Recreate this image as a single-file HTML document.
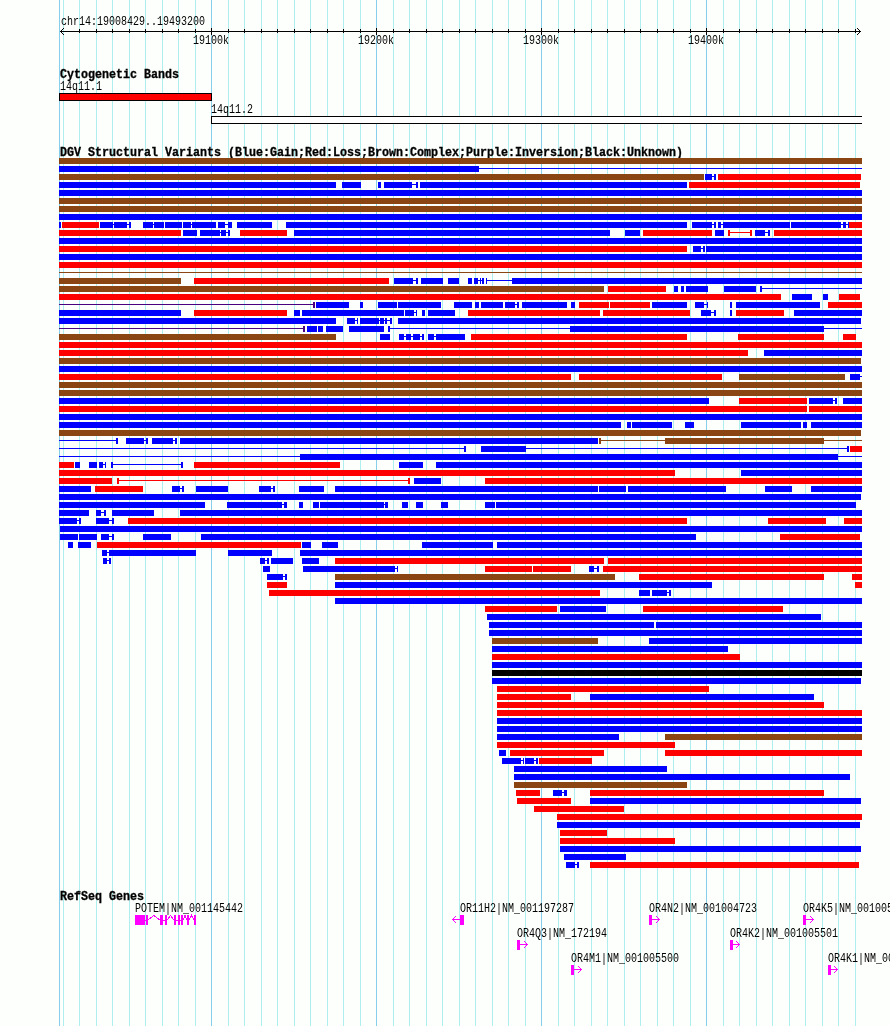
<!DOCTYPE html>
<html><head><meta charset="utf-8"><title>chr14:19008429..19493200</title>
<style>
html,body{margin:0;padding:0;background:#fdfffc;}
body{width:890px;height:1026px;overflow:hidden;font-family:"Liberation Mono",monospace;}
svg{display:block;will-change:transform;}
svg text{font-family:"Liberation Mono",monospace;font-size:12px;fill:#000;}
</style></head><body>
<svg width="890" height="1026" viewBox="0 0 890 1026" shape-rendering="crispEdges">
<rect x="0" y="0" width="890" height="1026" fill="#fdfffc"/>
<rect x="59" y="0" width="1" height="1026" fill="#87ceeb"/>
<rect x="63" y="0" width="1" height="1026" fill="#afeeee"/>
<rect x="79" y="0" width="1" height="1026" fill="#afeeee"/>
<rect x="96" y="0" width="1" height="1026" fill="#afeeee"/>
<rect x="112" y="0" width="1" height="1026" fill="#afeeee"/>
<rect x="129" y="0" width="1" height="1026" fill="#afeeee"/>
<rect x="145" y="0" width="1" height="1026" fill="#afeeee"/>
<rect x="162" y="0" width="1" height="1026" fill="#afeeee"/>
<rect x="178" y="0" width="1" height="1026" fill="#afeeee"/>
<rect x="195" y="0" width="1" height="1026" fill="#afeeee"/>
<rect x="211" y="0" width="1" height="1026" fill="#87ceeb"/>
<rect x="228" y="0" width="1" height="1026" fill="#afeeee"/>
<rect x="244" y="0" width="1" height="1026" fill="#afeeee"/>
<rect x="261" y="0" width="1" height="1026" fill="#afeeee"/>
<rect x="277" y="0" width="1" height="1026" fill="#afeeee"/>
<rect x="294" y="0" width="1" height="1026" fill="#afeeee"/>
<rect x="310" y="0" width="1" height="1026" fill="#afeeee"/>
<rect x="327" y="0" width="1" height="1026" fill="#afeeee"/>
<rect x="343" y="0" width="1" height="1026" fill="#afeeee"/>
<rect x="360" y="0" width="1" height="1026" fill="#afeeee"/>
<rect x="376" y="0" width="1" height="1026" fill="#87ceeb"/>
<rect x="393" y="0" width="1" height="1026" fill="#afeeee"/>
<rect x="409" y="0" width="1" height="1026" fill="#afeeee"/>
<rect x="426" y="0" width="1" height="1026" fill="#afeeee"/>
<rect x="442" y="0" width="1" height="1026" fill="#afeeee"/>
<rect x="459" y="0" width="1" height="1026" fill="#afeeee"/>
<rect x="475" y="0" width="1" height="1026" fill="#afeeee"/>
<rect x="492" y="0" width="1" height="1026" fill="#afeeee"/>
<rect x="508" y="0" width="1" height="1026" fill="#afeeee"/>
<rect x="525" y="0" width="1" height="1026" fill="#afeeee"/>
<rect x="541" y="0" width="1" height="1026" fill="#87ceeb"/>
<rect x="558" y="0" width="1" height="1026" fill="#afeeee"/>
<rect x="574" y="0" width="1" height="1026" fill="#afeeee"/>
<rect x="591" y="0" width="1" height="1026" fill="#afeeee"/>
<rect x="607" y="0" width="1" height="1026" fill="#afeeee"/>
<rect x="624" y="0" width="1" height="1026" fill="#afeeee"/>
<rect x="640" y="0" width="1" height="1026" fill="#afeeee"/>
<rect x="657" y="0" width="1" height="1026" fill="#afeeee"/>
<rect x="673" y="0" width="1" height="1026" fill="#afeeee"/>
<rect x="690" y="0" width="1" height="1026" fill="#afeeee"/>
<rect x="706" y="0" width="1" height="1026" fill="#87ceeb"/>
<rect x="723" y="0" width="1" height="1026" fill="#afeeee"/>
<rect x="739" y="0" width="1" height="1026" fill="#afeeee"/>
<rect x="756" y="0" width="1" height="1026" fill="#afeeee"/>
<rect x="772" y="0" width="1" height="1026" fill="#afeeee"/>
<rect x="789" y="0" width="1" height="1026" fill="#afeeee"/>
<rect x="805" y="0" width="1" height="1026" fill="#afeeee"/>
<rect x="822" y="0" width="1" height="1026" fill="#afeeee"/>
<rect x="838" y="0" width="1" height="1026" fill="#afeeee"/>
<rect x="855" y="0" width="1" height="1026" fill="#afeeee"/>
<rect x="60" y="31" width="801" height="1" fill="#000"/>
<rect x="79" y="29" width="1" height="4" fill="#000"/>
<rect x="96" y="29" width="1" height="4" fill="#000"/>
<rect x="112" y="29" width="1" height="4" fill="#000"/>
<rect x="129" y="29" width="1" height="4" fill="#000"/>
<rect x="145" y="29" width="1" height="4" fill="#000"/>
<rect x="162" y="29" width="1" height="4" fill="#000"/>
<rect x="178" y="29" width="1" height="4" fill="#000"/>
<rect x="195" y="29" width="1" height="4" fill="#000"/>
<rect x="211" y="28" width="1" height="7" fill="#000"/>
<rect x="228" y="29" width="1" height="4" fill="#000"/>
<rect x="244" y="29" width="1" height="4" fill="#000"/>
<rect x="261" y="29" width="1" height="4" fill="#000"/>
<rect x="277" y="29" width="1" height="4" fill="#000"/>
<rect x="294" y="29" width="1" height="4" fill="#000"/>
<rect x="310" y="29" width="1" height="4" fill="#000"/>
<rect x="327" y="29" width="1" height="4" fill="#000"/>
<rect x="343" y="29" width="1" height="4" fill="#000"/>
<rect x="360" y="29" width="1" height="4" fill="#000"/>
<rect x="376" y="28" width="1" height="7" fill="#000"/>
<rect x="393" y="29" width="1" height="4" fill="#000"/>
<rect x="409" y="29" width="1" height="4" fill="#000"/>
<rect x="426" y="29" width="1" height="4" fill="#000"/>
<rect x="442" y="29" width="1" height="4" fill="#000"/>
<rect x="459" y="29" width="1" height="4" fill="#000"/>
<rect x="475" y="29" width="1" height="4" fill="#000"/>
<rect x="492" y="29" width="1" height="4" fill="#000"/>
<rect x="508" y="29" width="1" height="4" fill="#000"/>
<rect x="525" y="29" width="1" height="4" fill="#000"/>
<rect x="541" y="28" width="1" height="7" fill="#000"/>
<rect x="558" y="29" width="1" height="4" fill="#000"/>
<rect x="574" y="29" width="1" height="4" fill="#000"/>
<rect x="591" y="29" width="1" height="4" fill="#000"/>
<rect x="607" y="29" width="1" height="4" fill="#000"/>
<rect x="624" y="29" width="1" height="4" fill="#000"/>
<rect x="640" y="29" width="1" height="4" fill="#000"/>
<rect x="657" y="29" width="1" height="4" fill="#000"/>
<rect x="673" y="29" width="1" height="4" fill="#000"/>
<rect x="690" y="29" width="1" height="4" fill="#000"/>
<rect x="706" y="28" width="1" height="7" fill="#000"/>
<rect x="723" y="29" width="1" height="4" fill="#000"/>
<rect x="739" y="29" width="1" height="4" fill="#000"/>
<rect x="756" y="29" width="1" height="4" fill="#000"/>
<rect x="772" y="29" width="1" height="4" fill="#000"/>
<rect x="789" y="29" width="1" height="4" fill="#000"/>
<rect x="805" y="29" width="1" height="4" fill="#000"/>
<rect x="822" y="29" width="1" height="4" fill="#000"/>
<rect x="838" y="29" width="1" height="4" fill="#000"/>
<rect x="855" y="29" width="1" height="4" fill="#000"/>
<rect x="61" y="30" width="1" height="1" fill="#000"/>
<rect x="61" y="32" width="1" height="1" fill="#000"/>
<rect x="859" y="30" width="1" height="1" fill="#000"/>
<rect x="859" y="32" width="1" height="1" fill="#000"/>
<rect x="62" y="29" width="1" height="1" fill="#000"/>
<rect x="62" y="33" width="1" height="1" fill="#000"/>
<rect x="858" y="29" width="1" height="1" fill="#000"/>
<rect x="858" y="33" width="1" height="1" fill="#000"/>
<rect x="63" y="28" width="1" height="1" fill="#000"/>
<rect x="63" y="34" width="1" height="1" fill="#000"/>
<rect x="857" y="28" width="1" height="1" fill="#000"/>
<rect x="857" y="34" width="1" height="1" fill="#000"/>
<text x="61" y="24.5" textLength="144" lengthAdjust="spacingAndGlyphs">chr14:19008429..19493200</text>
<text x="193" y="44" textLength="36" lengthAdjust="spacingAndGlyphs">19100k</text>
<text x="358" y="44" textLength="36" lengthAdjust="spacingAndGlyphs">19200k</text>
<text x="523" y="44" textLength="36" lengthAdjust="spacingAndGlyphs">19300k</text>
<text x="688" y="44" textLength="36" lengthAdjust="spacingAndGlyphs">19400k</text>
<text x="60" y="78" textLength="119" lengthAdjust="spacingAndGlyphs" font-weight="bold" stroke="#000" stroke-width="0.3">Cytogenetic Bands</text>
<text x="60" y="90" textLength="42" lengthAdjust="spacingAndGlyphs">14q11.1</text>
<rect x="59.5" y="93.5" width="152" height="7" fill="#ff0000" stroke="#000" stroke-width="1"/>
<text x="211" y="113" textLength="42" lengthAdjust="spacingAndGlyphs">14q11.2</text>
<rect x="211" y="116" width="651" height="8" fill="#fff"/>
<rect x="211" y="116" width="651" height="1" fill="#000"/>
<rect x="211" y="123" width="651" height="1" fill="#000"/>
<rect x="211" y="116" width="1" height="8" fill="#000"/>
<text x="60" y="156" textLength="623" lengthAdjust="spacingAndGlyphs" font-weight="bold" stroke="#000" stroke-width="0.3">DGV Structural Variants (Blue:Gain;Red:Loss;Brown:Complex;Purple:Inversion;Black:Unknown)</text>
<rect x="59" y="158" width="803" height="6" fill="#8b4513"/>
<rect x="59" y="166" width="420" height="6" fill="#0000ff"/>
<rect x="479" y="168" width="383" height="1" fill="#0000ff"/>
<rect x="59" y="174" width="645" height="6" fill="#8b4513"/>
<rect x="705" y="174" width="7" height="6" fill="#0000ff"/>
<rect x="712" y="176" width="2" height="1" fill="#0000ff"/>
<rect x="714" y="174" width="2" height="6" fill="#0000ff"/>
<rect x="718" y="174" width="143" height="6" fill="#ff0000"/>
<rect x="59" y="182" width="277" height="6" fill="#0000ff"/>
<rect x="342" y="182" width="19" height="6" fill="#0000ff"/>
<rect x="378" y="182" width="3" height="6" fill="#0000ff"/>
<rect x="384" y="182" width="28" height="6" fill="#0000ff"/>
<rect x="412" y="184" width="4" height="1" fill="#0000ff"/>
<rect x="416" y="182" width="2" height="6" fill="#0000ff"/>
<rect x="420" y="182" width="267" height="6" fill="#0000ff"/>
<rect x="689" y="182" width="171" height="6" fill="#ff0000"/>
<rect x="59" y="190" width="803" height="6" fill="#0000ff"/>
<rect x="59" y="198" width="803" height="6" fill="#8b4513"/>
<rect x="59" y="206" width="803" height="6" fill="#8b4513"/>
<rect x="59" y="214" width="803" height="6" fill="#0000ff"/>
<rect x="59" y="222" width="2" height="6" fill="#0000ff"/>
<rect x="62" y="222" width="37" height="6" fill="#ff0000"/>
<rect x="100" y="222" width="13" height="6" fill="#0000ff"/>
<rect x="113" y="224" width="1" height="1" fill="#0000ff"/>
<rect x="114" y="222" width="13" height="6" fill="#0000ff"/>
<rect x="127" y="224" width="2" height="1" fill="#0000ff"/>
<rect x="129" y="222" width="2" height="6" fill="#0000ff"/>
<rect x="143" y="222" width="10" height="6" fill="#0000ff"/>
<rect x="153" y="224" width="1" height="1" fill="#0000ff"/>
<rect x="154" y="222" width="10" height="6" fill="#0000ff"/>
<rect x="165" y="222" width="17" height="6" fill="#0000ff"/>
<rect x="183" y="222" width="8" height="6" fill="#0000ff"/>
<rect x="191" y="224" width="1" height="1" fill="#0000ff"/>
<rect x="192" y="222" width="24" height="6" fill="#0000ff"/>
<rect x="218" y="222" width="7" height="6" fill="#0000ff"/>
<rect x="225" y="224" width="3" height="1" fill="#0000ff"/>
<rect x="228" y="222" width="4" height="6" fill="#0000ff"/>
<rect x="237" y="222" width="35" height="6" fill="#0000ff"/>
<rect x="286" y="222" width="401" height="6" fill="#0000ff"/>
<rect x="692" y="222" width="20" height="6" fill="#0000ff"/>
<rect x="712" y="224" width="2" height="1" fill="#0000ff"/>
<rect x="714" y="222" width="2" height="6" fill="#0000ff"/>
<rect x="718" y="222" width="3" height="6" fill="#0000ff"/>
<rect x="721" y="224" width="2" height="1" fill="#0000ff"/>
<rect x="723" y="222" width="67" height="6" fill="#0000ff"/>
<rect x="791" y="222" width="50" height="6" fill="#0000ff"/>
<rect x="841" y="224" width="2" height="1" fill="#0000ff"/>
<rect x="843" y="222" width="3" height="6" fill="#0000ff"/>
<rect x="846" y="224" width="2" height="1" fill="#0000ff"/>
<rect x="848" y="222" width="1" height="6" fill="#0000ff"/>
<rect x="849" y="222" width="13" height="6" fill="#ff0000"/>
<rect x="59" y="230" width="122" height="6" fill="#ff0000"/>
<rect x="183" y="230" width="14" height="6" fill="#0000ff"/>
<rect x="200" y="230" width="20" height="6" fill="#0000ff"/>
<rect x="220" y="232" width="1" height="1" fill="#0000ff"/>
<rect x="221" y="230" width="5" height="6" fill="#0000ff"/>
<rect x="226" y="232" width="2" height="1" fill="#0000ff"/>
<rect x="228" y="230" width="2" height="6" fill="#0000ff"/>
<rect x="240" y="230" width="47" height="6" fill="#ff0000"/>
<rect x="294" y="230" width="316" height="6" fill="#0000ff"/>
<rect x="625" y="230" width="15" height="6" fill="#0000ff"/>
<rect x="643" y="230" width="69" height="6" fill="#ff0000"/>
<rect x="715" y="230" width="9" height="6" fill="#0000ff"/>
<rect x="728" y="230" width="2" height="6" fill="#ff0000"/>
<rect x="730" y="232" width="20" height="1" fill="#ff0000"/>
<rect x="750" y="230" width="2" height="6" fill="#ff0000"/>
<rect x="755" y="230" width="10" height="6" fill="#0000ff"/>
<rect x="765" y="232" width="3" height="1" fill="#0000ff"/>
<rect x="768" y="230" width="2" height="6" fill="#0000ff"/>
<rect x="774" y="230" width="88" height="6" fill="#ff0000"/>
<rect x="59" y="238" width="803" height="6" fill="#0000ff"/>
<rect x="59" y="246" width="628" height="6" fill="#ff0000"/>
<rect x="693" y="246" width="8" height="6" fill="#0000ff"/>
<rect x="701" y="248" width="2" height="1" fill="#0000ff"/>
<rect x="703" y="246" width="2" height="6" fill="#0000ff"/>
<rect x="706" y="246" width="156" height="6" fill="#0000ff"/>
<rect x="59" y="254" width="803" height="6" fill="#0000ff"/>
<rect x="59" y="262" width="803" height="6" fill="#ff0000"/>
<rect x="59" y="272" width="803" height="1" fill="#8b4513"/>
<rect x="59" y="278" width="122" height="6" fill="#8b4513"/>
<rect x="194" y="278" width="195" height="6" fill="#ff0000"/>
<rect x="394" y="278" width="19" height="6" fill="#0000ff"/>
<rect x="413" y="280" width="3" height="1" fill="#0000ff"/>
<rect x="416" y="278" width="2" height="6" fill="#0000ff"/>
<rect x="421" y="278" width="22" height="6" fill="#0000ff"/>
<rect x="448" y="278" width="11" height="6" fill="#0000ff"/>
<rect x="468" y="278" width="4" height="6" fill="#0000ff"/>
<rect x="474" y="278" width="4" height="6" fill="#0000ff"/>
<rect x="478" y="280" width="2" height="1" fill="#0000ff"/>
<rect x="480" y="278" width="1" height="6" fill="#0000ff"/>
<rect x="481" y="280" width="1" height="1" fill="#0000ff"/>
<rect x="482" y="278" width="2" height="6" fill="#0000ff"/>
<rect x="486" y="278" width="1" height="6" fill="#0000ff"/>
<rect x="487" y="280" width="25" height="1" fill="#0000ff"/>
<rect x="512" y="278" width="350" height="6" fill="#0000ff"/>
<rect x="59" y="286" width="545" height="6" fill="#8b4513"/>
<rect x="608" y="286" width="58" height="6" fill="#ff0000"/>
<rect x="674" y="286" width="4" height="6" fill="#0000ff"/>
<rect x="681" y="286" width="3" height="6" fill="#0000ff"/>
<rect x="686" y="286" width="22" height="6" fill="#0000ff"/>
<rect x="724" y="286" width="32" height="6" fill="#0000ff"/>
<rect x="760" y="286" width="2" height="6" fill="#0000ff"/>
<rect x="762" y="288" width="100" height="1" fill="#0000ff"/>
<rect x="59" y="294" width="722" height="6" fill="#ff0000"/>
<rect x="792" y="294" width="20" height="6" fill="#0000ff"/>
<rect x="823" y="294" width="5" height="6" fill="#0000ff"/>
<rect x="839" y="294" width="21" height="6" fill="#ff0000"/>
<rect x="59" y="304" width="254" height="1" fill="#4b0082"/>
<rect x="313" y="302" width="2" height="6" fill="#4b0082"/>
<rect x="316" y="302" width="33" height="6" fill="#0000ff"/>
<rect x="360" y="302" width="3" height="6" fill="#0000ff"/>
<rect x="378" y="302" width="19" height="6" fill="#0000ff"/>
<rect x="398" y="302" width="43" height="6" fill="#0000ff"/>
<rect x="454" y="302" width="18" height="6" fill="#0000ff"/>
<rect x="475" y="302" width="4" height="6" fill="#0000ff"/>
<rect x="481" y="302" width="22" height="6" fill="#0000ff"/>
<rect x="505" y="302" width="10" height="6" fill="#0000ff"/>
<rect x="515" y="304" width="2" height="1" fill="#0000ff"/>
<rect x="517" y="302" width="2" height="6" fill="#0000ff"/>
<rect x="522" y="302" width="45" height="6" fill="#0000ff"/>
<rect x="571" y="302" width="4" height="6" fill="#0000ff"/>
<rect x="579" y="302" width="30" height="6" fill="#ff0000"/>
<rect x="610" y="302" width="40" height="6" fill="#ff0000"/>
<rect x="652" y="302" width="35" height="6" fill="#0000ff"/>
<rect x="695" y="302" width="9" height="6" fill="#0000ff"/>
<rect x="704" y="304" width="3" height="1" fill="#0000ff"/>
<rect x="707" y="302" width="1" height="6" fill="#0000ff"/>
<rect x="730" y="302" width="2" height="6" fill="#0000ff"/>
<rect x="736" y="302" width="84" height="6" fill="#0000ff"/>
<rect x="828" y="302" width="34" height="6" fill="#ff0000"/>
<rect x="59" y="310" width="122" height="6" fill="#0000ff"/>
<rect x="194" y="310" width="93" height="6" fill="#ff0000"/>
<rect x="294" y="310" width="6" height="6" fill="#0000ff"/>
<rect x="302" y="310" width="102" height="6" fill="#0000ff"/>
<rect x="405" y="310" width="9" height="6" fill="#0000ff"/>
<rect x="414" y="312" width="2" height="1" fill="#0000ff"/>
<rect x="416" y="310" width="1" height="6" fill="#0000ff"/>
<rect x="422" y="310" width="3" height="6" fill="#0000ff"/>
<rect x="428" y="310" width="27" height="6" fill="#0000ff"/>
<rect x="468" y="310" width="132" height="6" fill="#ff0000"/>
<rect x="603" y="310" width="87" height="6" fill="#ff0000"/>
<rect x="701" y="310" width="10" height="6" fill="#0000ff"/>
<rect x="711" y="312" width="3" height="1" fill="#0000ff"/>
<rect x="714" y="310" width="2" height="6" fill="#0000ff"/>
<rect x="730" y="310" width="2" height="6" fill="#0000ff"/>
<rect x="736" y="310" width="48" height="6" fill="#ff0000"/>
<rect x="794" y="310" width="68" height="6" fill="#0000ff"/>
<rect x="59" y="318" width="277" height="6" fill="#0000ff"/>
<rect x="347" y="318" width="8" height="6" fill="#0000ff"/>
<rect x="355" y="320" width="2" height="1" fill="#0000ff"/>
<rect x="357" y="318" width="1" height="6" fill="#0000ff"/>
<rect x="360" y="318" width="19" height="6" fill="#0000ff"/>
<rect x="379" y="320" width="1" height="1" fill="#0000ff"/>
<rect x="380" y="318" width="4" height="6" fill="#0000ff"/>
<rect x="384" y="320" width="1" height="1" fill="#0000ff"/>
<rect x="385" y="318" width="2" height="6" fill="#0000ff"/>
<rect x="387" y="320" width="3" height="1" fill="#0000ff"/>
<rect x="390" y="318" width="2" height="6" fill="#0000ff"/>
<rect x="398" y="318" width="463" height="6" fill="#0000ff"/>
<rect x="59" y="328" width="244" height="1" fill="#4b0082"/>
<rect x="303" y="326" width="2" height="6" fill="#4b0082"/>
<rect x="307" y="326" width="10" height="6" fill="#0000ff"/>
<rect x="318" y="326" width="5" height="6" fill="#0000ff"/>
<rect x="326" y="326" width="17" height="6" fill="#0000ff"/>
<rect x="349" y="326" width="35" height="6" fill="#0000ff"/>
<rect x="388" y="326" width="2" height="6" fill="#0000ff"/>
<rect x="390" y="328" width="180" height="1" fill="#0000ff"/>
<rect x="570" y="326" width="254" height="6" fill="#0000ff"/>
<rect x="824" y="328" width="38" height="1" fill="#0000ff"/>
<rect x="59" y="334" width="277" height="6" fill="#8b4513"/>
<rect x="380" y="334" width="10" height="6" fill="#0000ff"/>
<rect x="399" y="334" width="5" height="6" fill="#0000ff"/>
<rect x="404" y="336" width="2" height="1" fill="#0000ff"/>
<rect x="406" y="334" width="5" height="6" fill="#0000ff"/>
<rect x="411" y="336" width="2" height="1" fill="#0000ff"/>
<rect x="413" y="334" width="7" height="6" fill="#0000ff"/>
<rect x="420" y="336" width="2" height="1" fill="#0000ff"/>
<rect x="422" y="334" width="2" height="6" fill="#0000ff"/>
<rect x="428" y="334" width="6" height="6" fill="#0000ff"/>
<rect x="434" y="336" width="2" height="1" fill="#0000ff"/>
<rect x="436" y="334" width="29" height="6" fill="#0000ff"/>
<rect x="471" y="334" width="216" height="6" fill="#ff0000"/>
<rect x="738" y="334" width="86" height="6" fill="#ff0000"/>
<rect x="843" y="334" width="13" height="6" fill="#ff0000"/>
<rect x="59" y="342" width="803" height="6" fill="#ff0000"/>
<rect x="59" y="350" width="689" height="6" fill="#ff0000"/>
<rect x="764" y="350" width="98" height="6" fill="#0000ff"/>
<rect x="59" y="358" width="802" height="6" fill="#8b4513"/>
<rect x="59" y="366" width="803" height="6" fill="#0000ff"/>
<rect x="59" y="374" width="512" height="6" fill="#ff0000"/>
<rect x="579" y="374" width="143" height="6" fill="#ff0000"/>
<rect x="739" y="374" width="106" height="6" fill="#8b4513"/>
<rect x="850" y="374" width="10" height="6" fill="#0000ff"/>
<rect x="860" y="376" width="2" height="1" fill="#0000ff"/>
<rect x="59" y="382" width="803" height="6" fill="#8b4513"/>
<rect x="59" y="390" width="803" height="6" fill="#8b4513"/>
<rect x="59" y="398" width="650" height="6" fill="#0000ff"/>
<rect x="739" y="398" width="68" height="6" fill="#ff0000"/>
<rect x="809" y="398" width="24" height="6" fill="#0000ff"/>
<rect x="833" y="400" width="2" height="1" fill="#0000ff"/>
<rect x="835" y="398" width="2" height="6" fill="#0000ff"/>
<rect x="843" y="398" width="19" height="6" fill="#0000ff"/>
<rect x="59" y="406" width="748" height="6" fill="#ff0000"/>
<rect x="809" y="406" width="53" height="6" fill="#ff0000"/>
<rect x="59" y="414" width="803" height="6" fill="#0000ff"/>
<rect x="59" y="422" width="562" height="6" fill="#0000ff"/>
<rect x="627" y="422" width="4" height="6" fill="#0000ff"/>
<rect x="632" y="422" width="40" height="6" fill="#0000ff"/>
<rect x="685" y="422" width="9" height="6" fill="#0000ff"/>
<rect x="741" y="422" width="60" height="6" fill="#0000ff"/>
<rect x="803" y="422" width="4" height="6" fill="#0000ff"/>
<rect x="811" y="422" width="51" height="6" fill="#0000ff"/>
<rect x="59" y="430" width="802" height="6" fill="#8b4513"/>
<rect x="59" y="440" width="57" height="1" fill="#0000ff"/>
<rect x="116" y="438" width="2" height="6" fill="#0000ff"/>
<rect x="126" y="438" width="18" height="6" fill="#0000ff"/>
<rect x="144" y="440" width="2" height="1" fill="#0000ff"/>
<rect x="146" y="438" width="2" height="6" fill="#0000ff"/>
<rect x="152" y="438" width="21" height="6" fill="#0000ff"/>
<rect x="173" y="440" width="2" height="1" fill="#0000ff"/>
<rect x="175" y="438" width="2" height="6" fill="#0000ff"/>
<rect x="180" y="438" width="418" height="6" fill="#0000ff"/>
<rect x="599" y="438" width="2" height="6" fill="#8b4513"/>
<rect x="601" y="440" width="64" height="1" fill="#8b4513"/>
<rect x="665" y="438" width="159" height="6" fill="#8b4513"/>
<rect x="824" y="440" width="38" height="1" fill="#8b4513"/>
<rect x="59" y="448" width="405" height="1" fill="#0000ff"/>
<rect x="464" y="446" width="2" height="6" fill="#0000ff"/>
<rect x="481" y="446" width="45" height="6" fill="#0000ff"/>
<rect x="526" y="448" width="321" height="1" fill="#0000ff"/>
<rect x="847" y="446" width="2" height="6" fill="#0000ff"/>
<rect x="850" y="446" width="12" height="6" fill="#ff0000"/>
<rect x="59" y="456" width="241" height="1" fill="#0000ff"/>
<rect x="300" y="454" width="538" height="6" fill="#0000ff"/>
<rect x="838" y="456" width="24" height="1" fill="#0000ff"/>
<rect x="59" y="462" width="15" height="6" fill="#ff0000"/>
<rect x="75" y="462" width="5" height="6" fill="#0000ff"/>
<rect x="89" y="462" width="8" height="6" fill="#0000ff"/>
<rect x="99" y="462" width="4" height="6" fill="#0000ff"/>
<rect x="103" y="464" width="2" height="1" fill="#0000ff"/>
<rect x="105" y="462" width="1" height="6" fill="#0000ff"/>
<rect x="111" y="462" width="2" height="6" fill="#0000ff"/>
<rect x="113" y="464" width="68" height="1" fill="#0000ff"/>
<rect x="181" y="462" width="2" height="6" fill="#0000ff"/>
<rect x="194" y="462" width="146" height="6" fill="#ff0000"/>
<rect x="399" y="462" width="24" height="6" fill="#0000ff"/>
<rect x="436" y="462" width="426" height="6" fill="#0000ff"/>
<rect x="59" y="470" width="616" height="6" fill="#ff0000"/>
<rect x="741" y="470" width="121" height="6" fill="#0000ff"/>
<rect x="59" y="478" width="53" height="6" fill="#ff0000"/>
<rect x="117" y="478" width="2" height="6" fill="#ff0000"/>
<rect x="119" y="480" width="289" height="1" fill="#ff0000"/>
<rect x="408" y="478" width="2" height="6" fill="#ff0000"/>
<rect x="414" y="478" width="27" height="6" fill="#0000ff"/>
<rect x="485" y="478" width="377" height="6" fill="#ff0000"/>
<rect x="59" y="486" width="32" height="6" fill="#0000ff"/>
<rect x="95" y="486" width="48" height="6" fill="#ff0000"/>
<rect x="172" y="486" width="8" height="6" fill="#0000ff"/>
<rect x="180" y="488" width="2" height="1" fill="#0000ff"/>
<rect x="182" y="486" width="2" height="6" fill="#0000ff"/>
<rect x="196" y="486" width="32" height="6" fill="#0000ff"/>
<rect x="259" y="486" width="12" height="6" fill="#0000ff"/>
<rect x="271" y="488" width="2" height="1" fill="#0000ff"/>
<rect x="273" y="486" width="2" height="6" fill="#0000ff"/>
<rect x="299" y="486" width="25" height="6" fill="#0000ff"/>
<rect x="335" y="486" width="263" height="6" fill="#0000ff"/>
<rect x="599" y="486" width="27" height="6" fill="#0000ff"/>
<rect x="628" y="486" width="98" height="6" fill="#0000ff"/>
<rect x="765" y="486" width="27" height="6" fill="#0000ff"/>
<rect x="811" y="486" width="51" height="6" fill="#0000ff"/>
<rect x="59" y="494" width="802" height="6" fill="#0000ff"/>
<rect x="59" y="502" width="146" height="6" fill="#0000ff"/>
<rect x="227" y="502" width="55" height="6" fill="#0000ff"/>
<rect x="282" y="504" width="2" height="1" fill="#0000ff"/>
<rect x="284" y="502" width="3" height="6" fill="#0000ff"/>
<rect x="299" y="502" width="4" height="6" fill="#0000ff"/>
<rect x="313" y="502" width="6" height="6" fill="#0000ff"/>
<rect x="320" y="502" width="64" height="6" fill="#0000ff"/>
<rect x="384" y="504" width="1" height="1" fill="#0000ff"/>
<rect x="385" y="502" width="3" height="6" fill="#0000ff"/>
<rect x="402" y="502" width="6" height="6" fill="#0000ff"/>
<rect x="416" y="502" width="7" height="6" fill="#0000ff"/>
<rect x="441" y="502" width="7" height="6" fill="#0000ff"/>
<rect x="485" y="502" width="10" height="6" fill="#0000ff"/>
<rect x="496" y="502" width="360" height="6" fill="#0000ff"/>
<rect x="59" y="510" width="30" height="6" fill="#0000ff"/>
<rect x="96" y="510" width="5" height="6" fill="#0000ff"/>
<rect x="101" y="512" width="3" height="1" fill="#0000ff"/>
<rect x="104" y="510" width="2" height="6" fill="#0000ff"/>
<rect x="112" y="510" width="42" height="6" fill="#0000ff"/>
<rect x="180" y="510" width="682" height="6" fill="#0000ff"/>
<rect x="59" y="518" width="18" height="6" fill="#0000ff"/>
<rect x="77" y="520" width="2" height="1" fill="#0000ff"/>
<rect x="79" y="518" width="2" height="6" fill="#0000ff"/>
<rect x="96" y="518" width="13" height="6" fill="#0000ff"/>
<rect x="109" y="520" width="3" height="1" fill="#0000ff"/>
<rect x="112" y="518" width="2" height="6" fill="#0000ff"/>
<rect x="128" y="518" width="559" height="6" fill="#ff0000"/>
<rect x="768" y="518" width="58" height="6" fill="#ff0000"/>
<rect x="844" y="518" width="18" height="6" fill="#ff0000"/>
<rect x="60" y="526" width="802" height="6" fill="#0000ff"/>
<rect x="60" y="534" width="18" height="6" fill="#0000ff"/>
<rect x="79" y="534" width="18" height="6" fill="#0000ff"/>
<rect x="101" y="534" width="8" height="6" fill="#0000ff"/>
<rect x="109" y="536" width="3" height="1" fill="#0000ff"/>
<rect x="112" y="534" width="2" height="6" fill="#0000ff"/>
<rect x="143" y="534" width="28" height="6" fill="#0000ff"/>
<rect x="201" y="534" width="495" height="6" fill="#0000ff"/>
<rect x="780" y="534" width="80" height="6" fill="#ff0000"/>
<rect x="68" y="542" width="5" height="6" fill="#0000ff"/>
<rect x="78" y="542" width="13" height="6" fill="#0000ff"/>
<rect x="97" y="542" width="204" height="6" fill="#ff0000"/>
<rect x="302" y="542" width="9" height="6" fill="#0000ff"/>
<rect x="322" y="542" width="16" height="6" fill="#0000ff"/>
<rect x="422" y="542" width="71" height="6" fill="#0000ff"/>
<rect x="497" y="542" width="365" height="6" fill="#0000ff"/>
<rect x="102" y="550" width="5" height="6" fill="#0000ff"/>
<rect x="107" y="552" width="2" height="1" fill="#0000ff"/>
<rect x="109" y="550" width="87" height="6" fill="#0000ff"/>
<rect x="228" y="550" width="44" height="6" fill="#0000ff"/>
<rect x="300" y="550" width="562" height="6" fill="#0000ff"/>
<rect x="103" y="558" width="4" height="6" fill="#0000ff"/>
<rect x="107" y="560" width="2" height="1" fill="#0000ff"/>
<rect x="109" y="558" width="2" height="6" fill="#0000ff"/>
<rect x="260" y="558" width="5" height="6" fill="#0000ff"/>
<rect x="265" y="560" width="2" height="1" fill="#0000ff"/>
<rect x="267" y="558" width="2" height="6" fill="#0000ff"/>
<rect x="271" y="558" width="22" height="6" fill="#0000ff"/>
<rect x="302" y="558" width="17" height="6" fill="#0000ff"/>
<rect x="335" y="558" width="269" height="6" fill="#ff0000"/>
<rect x="608" y="558" width="254" height="6" fill="#ff0000"/>
<rect x="263" y="566" width="7" height="6" fill="#0000ff"/>
<rect x="303" y="566" width="92" height="6" fill="#0000ff"/>
<rect x="395" y="568" width="2" height="1" fill="#0000ff"/>
<rect x="397" y="566" width="1" height="6" fill="#0000ff"/>
<rect x="485" y="566" width="47" height="6" fill="#ff0000"/>
<rect x="533" y="566" width="38" height="6" fill="#ff0000"/>
<rect x="589" y="566" width="5" height="6" fill="#0000ff"/>
<rect x="594" y="568" width="3" height="1" fill="#0000ff"/>
<rect x="597" y="566" width="2" height="6" fill="#0000ff"/>
<rect x="603" y="566" width="259" height="6" fill="#ff0000"/>
<rect x="267" y="574" width="16" height="6" fill="#0000ff"/>
<rect x="283" y="576" width="2" height="1" fill="#0000ff"/>
<rect x="285" y="574" width="2" height="6" fill="#0000ff"/>
<rect x="335" y="574" width="280" height="6" fill="#8b4513"/>
<rect x="639" y="574" width="185" height="6" fill="#ff0000"/>
<rect x="852" y="574" width="10" height="6" fill="#ff0000"/>
<rect x="267" y="582" width="20" height="6" fill="#ff0000"/>
<rect x="335" y="582" width="377" height="6" fill="#0000ff"/>
<rect x="855" y="582" width="7" height="6" fill="#ff0000"/>
<rect x="269" y="590" width="331" height="6" fill="#ff0000"/>
<rect x="639" y="590" width="11" height="6" fill="#0000ff"/>
<rect x="652" y="590" width="15" height="6" fill="#0000ff"/>
<rect x="667" y="592" width="2" height="1" fill="#0000ff"/>
<rect x="669" y="590" width="2" height="6" fill="#0000ff"/>
<rect x="335" y="598" width="527" height="6" fill="#0000ff"/>
<rect x="485" y="606" width="72" height="6" fill="#ff0000"/>
<rect x="560" y="606" width="46" height="6" fill="#0000ff"/>
<rect x="643" y="606" width="140" height="6" fill="#ff0000"/>
<rect x="487" y="614" width="334" height="6" fill="#0000ff"/>
<rect x="489" y="622" width="165" height="6" fill="#0000ff"/>
<rect x="656" y="622" width="206" height="6" fill="#0000ff"/>
<rect x="489" y="630" width="373" height="6" fill="#0000ff"/>
<rect x="492" y="638" width="106" height="6" fill="#8b4513"/>
<rect x="649" y="638" width="213" height="6" fill="#0000ff"/>
<rect x="492" y="646" width="236" height="6" fill="#0000ff"/>
<rect x="492" y="654" width="248" height="6" fill="#ff0000"/>
<rect x="492" y="662" width="370" height="6" fill="#0000ff"/>
<rect x="492" y="670" width="370" height="6" fill="#000000"/>
<rect x="492" y="678" width="369" height="6" fill="#0000ff"/>
<rect x="497" y="686" width="212" height="6" fill="#ff0000"/>
<rect x="497" y="694" width="74" height="6" fill="#ff0000"/>
<rect x="590" y="694" width="224" height="6" fill="#0000ff"/>
<rect x="497" y="702" width="327" height="6" fill="#ff0000"/>
<rect x="497" y="710" width="365" height="6" fill="#ff0000"/>
<rect x="497" y="718" width="365" height="6" fill="#0000ff"/>
<rect x="497" y="726" width="365" height="6" fill="#0000ff"/>
<rect x="497" y="734" width="122" height="6" fill="#0000ff"/>
<rect x="665" y="734" width="197" height="6" fill="#8b4513"/>
<rect x="497" y="742" width="178" height="6" fill="#ff0000"/>
<rect x="499" y="750" width="7" height="6" fill="#0000ff"/>
<rect x="510" y="750" width="94" height="6" fill="#ff0000"/>
<rect x="665" y="750" width="197" height="6" fill="#ff0000"/>
<rect x="502" y="758" width="19" height="6" fill="#0000ff"/>
<rect x="521" y="760" width="2" height="1" fill="#0000ff"/>
<rect x="523" y="758" width="1" height="6" fill="#0000ff"/>
<rect x="525" y="758" width="9" height="6" fill="#0000ff"/>
<rect x="534" y="760" width="2" height="1" fill="#0000ff"/>
<rect x="536" y="758" width="2" height="6" fill="#0000ff"/>
<rect x="539" y="758" width="53" height="6" fill="#ff0000"/>
<rect x="514" y="766" width="153" height="6" fill="#0000ff"/>
<rect x="514" y="774" width="336" height="6" fill="#0000ff"/>
<rect x="514" y="782" width="173" height="6" fill="#8b4513"/>
<rect x="516" y="790" width="24" height="6" fill="#ff0000"/>
<rect x="553" y="790" width="9" height="6" fill="#0000ff"/>
<rect x="562" y="792" width="2" height="1" fill="#0000ff"/>
<rect x="564" y="790" width="3" height="6" fill="#0000ff"/>
<rect x="590" y="790" width="234" height="6" fill="#ff0000"/>
<rect x="517" y="798" width="54" height="6" fill="#ff0000"/>
<rect x="590" y="798" width="271" height="6" fill="#0000ff"/>
<rect x="534" y="806" width="90" height="6" fill="#ff0000"/>
<rect x="557" y="814" width="305" height="6" fill="#ff0000"/>
<rect x="557" y="822" width="303" height="6" fill="#0000ff"/>
<rect x="560" y="830" width="47" height="6" fill="#ff0000"/>
<rect x="560" y="838" width="115" height="6" fill="#ff0000"/>
<rect x="560" y="846" width="301" height="6" fill="#0000ff"/>
<rect x="564" y="854" width="62" height="6" fill="#0000ff"/>
<rect x="566" y="862" width="9" height="6" fill="#0000ff"/>
<rect x="575" y="864" width="2" height="1" fill="#0000ff"/>
<rect x="577" y="862" width="2" height="6" fill="#0000ff"/>
<rect x="590" y="862" width="269" height="6" fill="#ff0000"/>
<text x="60" y="900" textLength="84" lengthAdjust="spacingAndGlyphs" font-weight="bold" stroke="#000" stroke-width="0.3">RefSeq Genes</text>
<text x="135" y="912" textLength="108" lengthAdjust="spacingAndGlyphs">POTEM|NM_001145442</text>
<rect x="135" y="915" width="10" height="10" fill="#ff00ff"/>
<rect x="146" y="915" width="2" height="10" fill="#ff00ff"/>
<rect x="160" y="915" width="3" height="10" fill="#ff00ff"/>
<rect x="165" y="915" width="2" height="10" fill="#ff00ff"/>
<rect x="174" y="915" width="2" height="10" fill="#ff00ff"/>
<rect x="178" y="915" width="2" height="10" fill="#ff00ff"/>
<rect x="181" y="915" width="2" height="10" fill="#ff00ff"/>
<rect x="187" y="915" width="2" height="10" fill="#ff00ff"/>
<rect x="194" y="915" width="2" height="10" fill="#ff00ff"/>
<rect x="145" y="920" width="1" height="1" fill="#ff00ff"/>
<polyline points="148,920 154.0,915.5 160,920" fill="none" stroke="#ff00ff" stroke-width="1"/>
<rect x="163" y="920" width="2" height="1" fill="#ff00ff"/>
<polyline points="167,920 170.5,915.5 174,920" fill="none" stroke="#ff00ff" stroke-width="1"/>
<rect x="176" y="920" width="2" height="1" fill="#ff00ff"/>
<rect x="180" y="920" width="1" height="1" fill="#ff00ff"/>
<polyline points="183,920 185.0,915.5 187,920" fill="none" stroke="#ff00ff" stroke-width="1"/>
<polyline points="189,920 191.5,915.5 194,920" fill="none" stroke="#ff00ff" stroke-width="1"/>
<text x="460" y="912" textLength="114" lengthAdjust="spacingAndGlyphs">OR11H2|NM_001197287</text>
<rect x="460" y="915" width="4" height="10" fill="#ff00ff"/>
<rect x="452" y="919" width="8" height="1" fill="#ff00ff"/>
<rect x="453" y="918" width="1" height="1" fill="#ff00ff"/>
<rect x="453" y="920" width="1" height="1" fill="#ff00ff"/>
<rect x="454" y="917" width="1" height="1" fill="#ff00ff"/>
<rect x="454" y="921" width="1" height="1" fill="#ff00ff"/>
<rect x="455" y="916" width="1" height="1" fill="#ff00ff"/>
<rect x="455" y="922" width="1" height="1" fill="#ff00ff"/>
<text x="649" y="912" textLength="108" lengthAdjust="spacingAndGlyphs">OR4N2|NM_001004723</text>
<rect x="649" y="915" width="3" height="10" fill="#ff00ff"/>
<rect x="652" y="919" width="8" height="1" fill="#ff00ff"/>
<rect x="658" y="918" width="1" height="1" fill="#ff00ff"/>
<rect x="658" y="920" width="1" height="1" fill="#ff00ff"/>
<rect x="657" y="917" width="1" height="1" fill="#ff00ff"/>
<rect x="657" y="921" width="1" height="1" fill="#ff00ff"/>
<rect x="656" y="916" width="1" height="1" fill="#ff00ff"/>
<rect x="656" y="922" width="1" height="1" fill="#ff00ff"/>
<text x="803" y="912" textLength="108" lengthAdjust="spacingAndGlyphs">OR4K5|NM_001005483</text>
<rect x="803" y="915" width="3" height="10" fill="#ff00ff"/>
<rect x="806" y="919" width="8" height="1" fill="#ff00ff"/>
<rect x="812" y="918" width="1" height="1" fill="#ff00ff"/>
<rect x="812" y="920" width="1" height="1" fill="#ff00ff"/>
<rect x="811" y="917" width="1" height="1" fill="#ff00ff"/>
<rect x="811" y="921" width="1" height="1" fill="#ff00ff"/>
<rect x="810" y="916" width="1" height="1" fill="#ff00ff"/>
<rect x="810" y="922" width="1" height="1" fill="#ff00ff"/>
<text x="517" y="937" textLength="90" lengthAdjust="spacingAndGlyphs">OR4Q3|NM_172194</text>
<rect x="517" y="940" width="3" height="10" fill="#ff00ff"/>
<rect x="520" y="944" width="8" height="1" fill="#ff00ff"/>
<rect x="526" y="943" width="1" height="1" fill="#ff00ff"/>
<rect x="526" y="945" width="1" height="1" fill="#ff00ff"/>
<rect x="525" y="942" width="1" height="1" fill="#ff00ff"/>
<rect x="525" y="946" width="1" height="1" fill="#ff00ff"/>
<rect x="524" y="941" width="1" height="1" fill="#ff00ff"/>
<rect x="524" y="947" width="1" height="1" fill="#ff00ff"/>
<text x="730" y="937" textLength="108" lengthAdjust="spacingAndGlyphs">OR4K2|NM_001005501</text>
<rect x="730" y="940" width="3" height="10" fill="#ff00ff"/>
<rect x="733" y="944" width="7" height="1" fill="#ff00ff"/>
<rect x="738" y="943" width="1" height="1" fill="#ff00ff"/>
<rect x="738" y="945" width="1" height="1" fill="#ff00ff"/>
<rect x="737" y="942" width="1" height="1" fill="#ff00ff"/>
<rect x="737" y="946" width="1" height="1" fill="#ff00ff"/>
<rect x="736" y="941" width="1" height="1" fill="#ff00ff"/>
<rect x="736" y="947" width="1" height="1" fill="#ff00ff"/>
<text x="571" y="962" textLength="108" lengthAdjust="spacingAndGlyphs">OR4M1|NM_001005500</text>
<rect x="571" y="965" width="3" height="10" fill="#ff00ff"/>
<rect x="574" y="969" width="8" height="1" fill="#ff00ff"/>
<rect x="580" y="968" width="1" height="1" fill="#ff00ff"/>
<rect x="580" y="970" width="1" height="1" fill="#ff00ff"/>
<rect x="579" y="967" width="1" height="1" fill="#ff00ff"/>
<rect x="579" y="971" width="1" height="1" fill="#ff00ff"/>
<rect x="578" y="966" width="1" height="1" fill="#ff00ff"/>
<rect x="578" y="972" width="1" height="1" fill="#ff00ff"/>
<text x="828" y="962" textLength="108" lengthAdjust="spacingAndGlyphs">OR4K1|NM_001004063</text>
<rect x="828" y="965" width="3" height="10" fill="#ff00ff"/>
<rect x="831" y="969" width="7" height="1" fill="#ff00ff"/>
<rect x="836" y="968" width="1" height="1" fill="#ff00ff"/>
<rect x="836" y="970" width="1" height="1" fill="#ff00ff"/>
<rect x="835" y="967" width="1" height="1" fill="#ff00ff"/>
<rect x="835" y="971" width="1" height="1" fill="#ff00ff"/>
<rect x="834" y="966" width="1" height="1" fill="#ff00ff"/>
<rect x="834" y="972" width="1" height="1" fill="#ff00ff"/>
</svg>
</body></html>
